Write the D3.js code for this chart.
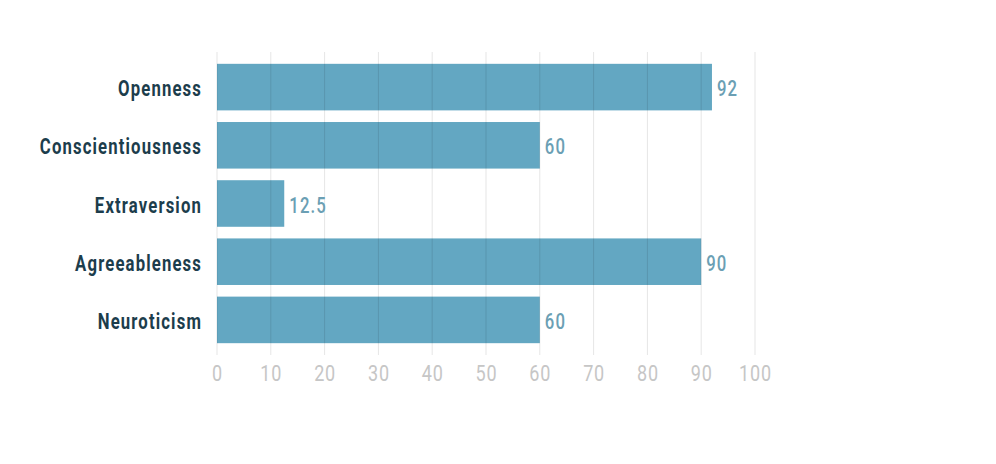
<!DOCTYPE html>
<html>
<head>
<meta charset="utf-8">
<script src="https://cdn.jsdelivr.net/npm/d3@7"></script>
<style>
  body { margin: 0; background: #fff; }
  svg text { font-family: Roboto, "DejaVu Sans", sans-serif; }
</style>
</head>
<body>
<svg></svg>
<script>
const traits = ["Openness", "Conscientiousness", "Extraversion", "Agreeableness", "Neuroticism"]
const scores = [92, 60, 12.5, 90, 60]
const ticks = [0, 10, 20, 30, 40, 50, 60, 70, 80, 90, 100]

const w = 996
const h = 464
const left = 217
const right = 755
const squeeze = 0.76   // the original font is condensed

const svg = d3.select("svg")
    .attr("width", w)
    .attr("height", h)

//Scales
const xScale = d3.scaleLinear()
    .domain([0, 100])
    .range([left, right])

const yScale = d3.scaleBand()
    .domain(traits)
    .range([58, 349])
    .paddingInner(0.2)
    .paddingOuter(0.1)

//Bars
svg.selectAll("rect.bar")
    .data(traits)
    .enter()
    .append("rect")
    .attr("class", "bar")
    .attr("x", xScale(0))
    .attr("y", d => yScale(d))
    .attr("width", (d, i) => xScale(scores[i]) - xScale(0))
    .attr("height", yScale.bandwidth())
    .attr("fill", "#63a7c2")

//Grid lines on top of the bars
svg.selectAll("line.grid")
    .data(ticks)
    .enter()
    .append("line")
    .attr("class", "grid")
    .attr("x1", d => xScale(d))
    .attr("x2", d => xScale(d))
    .attr("y1", 52)
    .attr("y2", 355)
    .attr("stroke", "rgba(0,0,0,0.1)")
    .attr("stroke-width", 1)

//Axis
const bottomAxis = d3.axisBottom(xScale)
    .tickValues(ticks)
    .tickSize(0)

const xAxis = svg.append("g")
    .attr("transform", "translate(0, 381)")
    .call(bottomAxis)
xAxis.select(".domain").remove()
xAxis.selectAll("text")
    .attr("y", 0)
    .attr("dy", 0)
    .attr("transform", "scale(0.82, 1)")
    .attr("font-size", 22)
    .attr("letter-spacing", 1)
    .attr("fill", "#c6c6c6")
    .style("font-family", "Roboto, sans-serif")
    .style("font-weight", 400)

//Category labels
svg.selectAll("text.cat")
    .data(traits)
    .enter()
    .append("text")
    .attr("class", "cat")
    .attr("transform", d => `translate(202, ${yScale(d) + yScale.bandwidth() / 2 + 9}) scale(${squeeze}, 1)`)
    .attr("font-size", 22)
    .attr("font-weight", "bold")
    .attr("letter-spacing", 1.5)
    .attr("text-anchor", "end")
    .attr("fill", "#1c3d4c")
    .text(d => d)

//Value labels
svg.selectAll("text.val")
    .data(traits)
    .enter()
    .append("text")
    .attr("class", "val")
    .attr("transform", (d, i) => `translate(${xScale(scores[i]) + 5}, ${yScale(d) + yScale.bandwidth() / 2 + 9}) scale(${squeeze}, 1)`)
    .attr("font-size", 22)
    .attr("font-weight", 500)
    .attr("letter-spacing", 1.5)
    .attr("fill", "#6b9fb4")
    .text((d, i) => scores[i])
</script>
</body>
</html>
